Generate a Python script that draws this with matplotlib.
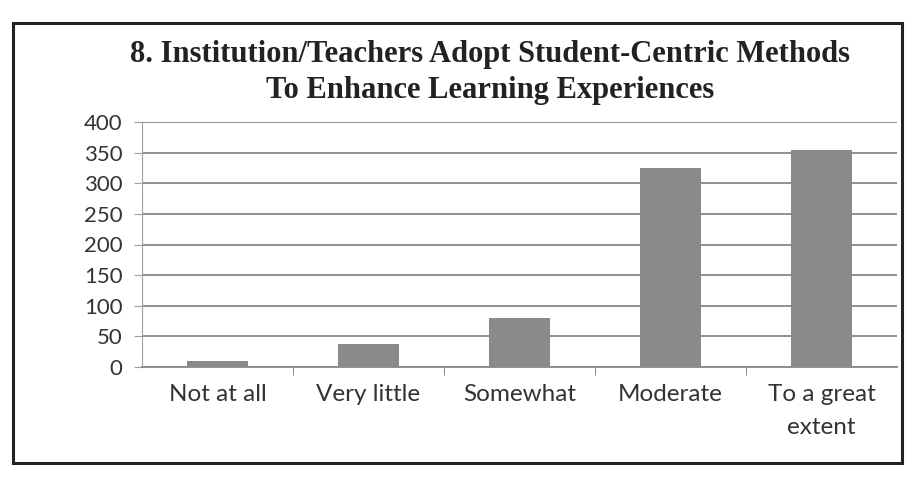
import matplotlib
matplotlib.use('Agg')
import matplotlib.pyplot as plt
from matplotlib.patches import Rectangle

categories = ['Not at all', 'Very little', 'Somewhat', 'Moderate', 'To a great\nextent']
counts = [10, 38, 80, 325, 355]
yticks = [0, 50, 100, 150, 200, 250, 300, 350, 400]
title_lines = ['8. Institution/Teachers Adopt Student-Centric Methods',
               'To Enhance Learning Experiences']

W, H = 905, 479
fig = plt.figure(figsize=(W / 100, H / 100), dpi=100)

# outer chart border
fig.patches.append(Rectangle((13 / W, 1 - 463 / H), (902 - 13) / W, (463 - 23) / H,
                             transform=fig.transFigure, fill=False,
                             edgecolor='#222222', lw=2.2))

ax = fig.add_axes([142 / W, 1 - 367 / H, (897 - 142) / W, (367 - 122) / H])
x = list(range(len(categories)))
ax.bar(x, counts, width=0.4, color='#8a8a8a', zorder=3)

ax.set_xlim(-0.5, len(categories) - 0.5)
ax.set_ylim(0, 400)
ax.set_yticks(yticks)
ax.set_yticklabels([str(v) for v in yticks], fontsize=16, family='Lato', color='#333333')
ax.set_xticks(x)
ax.set_xticklabels(categories, fontsize=17.5, family='Lato', color='#333333', linespacing=1.75)
ax.yaxis.grid(True, color='#888888', lw=1.3, zorder=0)
ax.set_axisbelow(True)

for side in ['top', 'right']:
    ax.spines[side].set_visible(False)
ax.spines['left'].set_color('#a0a0a0')
ax.spines['bottom'].set_color('#888888')
ax.spines['bottom'].set_linewidth(1.3)
ax.tick_params(axis='y', length=6, color='#a0a0a0', pad=8)
ax.tick_params(axis='x', length=0, pad=12)
# category boundary ticks on the x axis
ax.set_xticks([i + 0.5 for i in x[:-1]], minor=True)
ax.tick_params(axis='x', which='minor', length=6, color='#777777')

for line, base in zip(title_lines, [62, 98]):
    fig.text(490 / W, 1 - base / H, line, ha='center', va='baseline', fontsize=22,
             family='Liberation Serif', fontweight='bold', color='#222222')

fig.savefig('out.png', dpi=100, facecolor='white')
